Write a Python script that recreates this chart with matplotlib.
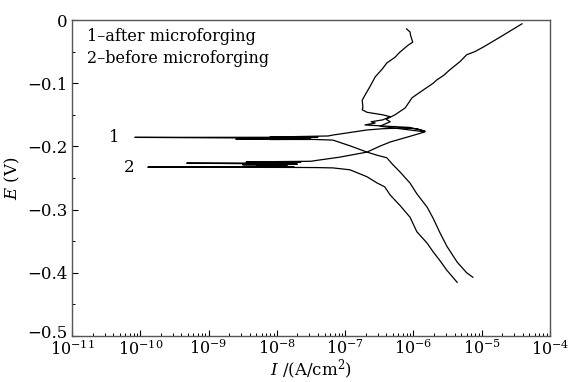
import numpy as np
import matplotlib
matplotlib.use("Agg")
import matplotlib.pyplot as plt
import matplotlib.transforms as mtransforms
from matplotlib.ticker import FixedLocator, FuncFormatter, LogLocator, NullFormatter

plt.rcParams['font.family'] = ['DejaVu Serif']
plt.rcParams['mathtext.fontset'] = 'dejavuserif'

# ---- data: log10(I [A/cm^2]) and E [V] ----
# curve 1 : after microforging
c1_cath_logI = [-5.13, -5.22, -5.36, -5.51, -5.61, -5.71, -5.80, -5.95, -6.05, -6.20, -6.30, -6.39, -6.53, -6.68, -6.93, -7.18, -7.45]
c1_cath_E    = [-0.407, -0.400, -0.383, -0.358, -0.337, -0.314, -0.296, -0.275, -0.258, -0.240, -0.229, -0.218, -0.214, -0.209, -0.199, -0.190, -0.1890]
c1_corr_logI = [-8.10, -7.60, -8.60, -7.50, -8.00, -7.55, -10.08, -7.60, -8.10, -7.40, -7.90, -7.25]
c1_corr_E    = [-0.1890, -0.1888, -0.1888, -0.1885, -0.1875, -0.1872, -0.1857, -0.1855, -0.1852, -0.1850, -0.1848, -0.1835]
c1_anod_logI = [-7.18, -6.93, -6.68, -6.45, -6.20, -5.95, -5.83, -6.05, -6.40, -6.71, -6.56, -6.62, -6.45, -6.34, -6.45, -6.68, -6.75, -6.74, -6.75, -6.71, -6.64, -6.56, -6.46, -6.39, -6.27, -6.20, -6.08, -6.01, -6.04, -6.05, -6.10]
c1_anod_E    = [-0.182, -0.178, -0.174, -0.172, -0.171, -0.172, -0.176, -0.170, -0.168, -0.166, -0.163, -0.161, -0.158, -0.153, -0.150, -0.146, -0.142, -0.138, -0.127, -0.119, -0.106, -0.090, -0.078, -0.068, -0.059, -0.051, -0.040, -0.035, -0.025, -0.019, -0.014]

# curve 2 : before microforging
c2_cath_logI = [-5.36, -5.51, -5.61, -5.71, -5.80, -5.95, -6.05, -6.20, -6.34, -6.42, -6.53, -6.68, -6.93, -7.18, -7.41]
c2_cath_E    = [-0.415, -0.396, -0.381, -0.367, -0.353, -0.335, -0.312, -0.293, -0.277, -0.264, -0.258, -0.248, -0.237, -0.234, -0.2335]
c2_corr_logI = [-7.70, -8.54, -7.80, -8.40, -9.89, -7.75, -8.30, -7.85, -8.50, -7.70, -9.32, -7.80, -8.20, -7.65, -8.45, -7.50]
c2_corr_E    = [-0.2333, -0.2331, -0.2330, -0.2329, -0.2328, -0.2320, -0.2310, -0.2300, -0.2290, -0.2280, -0.2265, -0.2262, -0.2258, -0.2252, -0.2245, -0.2235]
c2_anod_logI = [-7.41, -7.08, -6.68, -6.50, -6.34, -6.05, -5.83, -6.20, -6.49, -6.34, -6.40, -6.27, -6.12, -6.02, -5.86, -5.71, -5.66, -5.55, -5.47, -5.32, -5.22, -5.10, -4.98, -4.73, -4.41]
c2_anod_E    = [-0.222, -0.217, -0.209, -0.200, -0.193, -0.184, -0.177, -0.172, -0.168, -0.161, -0.157, -0.150, -0.139, -0.123, -0.111, -0.100, -0.095, -0.087, -0.079, -0.066, -0.055, -0.050, -0.043, -0.027, -0.006]

legend_lines = ["1\u2013after microforging", "2\u2013before microforging"]
x_ticks = [1e-11, 1e-10, 1e-9, 1e-8, 1e-7, 1e-6, 1e-5, 1e-4]
y_ticks = [0, -0.1, -0.2, -0.3, -0.4, -0.5]

fig = plt.figure(figsize=(5.79, 3.82), dpi=100)
ax = fig.add_axes([0.1244, 0.1204, 0.8255, 0.8272])

def draw(logI_parts, E_parts):
    lI = np.concatenate([np.asarray(p, float) for p in logI_parts])
    E = np.concatenate([np.asarray(p, float) for p in E_parts])
    ax.plot(10.0 ** lI, E, color='black', lw=0.9)

draw([c1_cath_logI, c1_corr_logI, c1_anod_logI], [c1_cath_E, c1_corr_E, c1_anod_E])
draw([c2_cath_logI, c2_corr_logI, c2_anod_logI], [c2_cath_E, c2_corr_E, c2_anod_E])

ax.set_xscale('log')
ax.set_xlim(1e-11, 1e-4)
ax.set_ylim(-0.5, 0)

ax.xaxis.set_major_locator(FixedLocator(x_ticks))
ax.xaxis.set_minor_locator(LogLocator(base=10, subs=np.arange(2, 10), numticks=20))
ax.xaxis.set_minor_formatter(NullFormatter())
ax.xaxis.set_major_formatter(FuncFormatter(lambda v, p: r'$10^{%d}$' % int(round(np.log10(v)))))
ax.yaxis.set_major_locator(FixedLocator(y_ticks))
ax.yaxis.set_minor_locator(FixedLocator([-0.05, -0.15, -0.25, -0.35, -0.45]))
ax.yaxis.set_major_formatter(FuncFormatter(lambda v, p: '0' if abs(v) < 1e-9 else ('\u2212%.1f' % abs(v))))

ax.tick_params(axis='both', which='both', direction='in', top=False, right=False, colors='black')
ax.tick_params(axis='y', which='major', labelsize=12, pad=3)
ax.tick_params(axis='x', which='major', labelsize=11.5, pad=2.5)
ax.tick_params(axis='both', which='major', length=4, width=0.8)
ax.tick_params(axis='both', which='minor', length=2.5, width=0.7)
for s in ax.spines.values():
    s.set_color('#555555')
    s.set_linewidth(1.0)

# x label placed in the small strip under the tick labels
fig.text(0.5 * (0.1244 + 0.95), 0.0, r'$I$ /(A/cm$^2$)', fontsize=12, ha='center', va='bottom')
ax.set_ylabel(r'$E$ (V)', fontsize=12, labelpad=4)

fig.canvas.draw()
# lift the bottom y label slightly, as in the reference
for lab in ax.get_yticklabels():
    if lab.get_text().endswith('0.5'):
        lab.set_transform(lab.get_transform() + mtransforms.ScaledTranslation(0, 5 / 100, fig.dpi_scale_trans))

ax.text(0.032, 0.975, legend_lines[0], transform=ax.transAxes, fontsize=11.5, va='top', ha='left')
ax.text(0.032, 0.905, legend_lines[1], transform=ax.transAxes, fontsize=11.5, va='top', ha='left')

ax.text(10 ** -10.3, c1_corr_E[6], '1', fontsize=12, ha='right', va='center')
ax.text(10 ** -10.08, c2_corr_E[4], '2', fontsize=12, ha='right', va='center')

fig.savefig('out.png', dpi=100)
